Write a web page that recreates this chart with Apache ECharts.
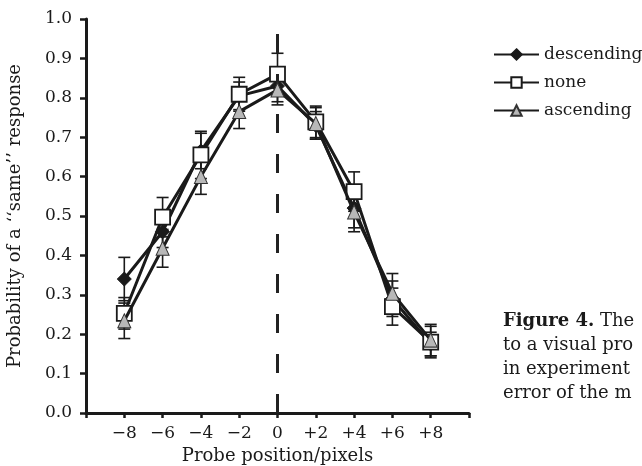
<!DOCTYPE html>
<html>
<head>
<meta charset="utf-8">
<script src="https://cdn.jsdelivr.net/npm/echarts@6/dist/echarts.min.js"></script>
<style>
  html, body { margin: 0; padding: 0; background: #fff; }
  #chart { width: 642px; height: 466px; }
</style>
</head>
<body>
<div id="chart"></div>
<script>
// probe positions (pixels)
const positions = [-8, -6, -4, -2, 0, 2, 4, 6, 8];

// probability of a "same" response
const descending = [0.34, 0.46, 0.665, 0.805, 0.83, 0.73, 0.52, 0.29, 0.175];
const none = [0.253, 0.497, 0.655, 0.809, 0.86, 0.739, 0.562, 0.27, 0.18];
const ascending = [0.234, 0.418, 0.60, 0.765, 0.82, 0.735, 0.51, 0.304, 0.185];

// standard errors
const descendingErr = [0.055, 0.04, 0.045, 0.035, 0.04, 0.035, 0.05, 0.045, 0.03];
const noneErr = [0.04, 0.05, 0.06, 0.043, 0.053, 0.04, 0.05, 0.047, 0.04];
const ascendingErr = [0.045, 0.048, 0.045, 0.043, 0.038, 0.04, 0.05, 0.05, 0.04];

const yTicks = [0, 0.1, 0.2, 0.3, 0.4, 0.5, 0.6, 0.7, 0.8, 0.9, 1.0];

const FONT = 'DejaVu Serif';
const INK = '#1a1a1a';

function pairs(values) {
  return positions.map((x, i) => [x, values[i]]);
}

function bars(values, errs) {
  return positions.map((x, i) => [x, values[i] - errs[i], values[i] + errs[i]]);
}

function renderErrorBar(params, api) {
  const x = api.value(0);
  const top = api.coord([x, api.value(2)]);
  const bot = api.coord([x, api.value(1)]);
  const hw = 6;
  const style = { stroke: INK, lineWidth: 1.6 };
  return {
    type: 'group',
    children: [
      { type: 'line', shape: { x1: top[0], y1: top[1], x2: bot[0], y2: bot[1] }, style },
      { type: 'line', shape: { x1: top[0] - hw, y1: top[1], x2: top[0] + hw, y2: top[1] }, style },
      { type: 'line', shape: { x1: bot[0] - hw, y1: bot[1], x2: bot[0] + hw, y2: bot[1] }, style }
    ]
  };
}

function errorSeries(name, values, errs) {
  return {
    name: name + ' error',
    type: 'custom',
    renderItem: renderErrorBar,
    encode: { x: 0, y: [1, 2] },
    data: bars(values, errs),
    z: 1,
    silent: true
  };
}

function xLabel(v) {
  if (v === -10 || v === 10) return '';
  if (v > 0) return '+' + v;
  if (v < 0) return '\u2212' + (-v);
  return '0';
}

const chart = echarts.init(document.getElementById('chart'), null, { renderer: 'canvas' });

chart.setOption({
  backgroundColor: '#fff',
  animation: false,
  textStyle: { fontFamily: FONT, color: INK },
  grid: { left: 86, right: 173, top: 19, bottom: 53, containLabel: false, outerBoundsMode: 'none' },
  xAxis: {
    type: 'value',
    min: -10,
    max: 10,
    interval: 2,
    name: 'Probe position/pixels',
    nameLocation: 'middle',
    nameGap: 31,
    nameTextStyle: { fontFamily: FONT, fontSize: 18, color: INK },
    axisLine: { onZero: false, lineStyle: { color: INK, width: 3 } },
    axisTick: { length: 5, lineStyle: { color: INK, width: 2.5 } },
    axisLabel: { formatter: xLabel, fontFamily: FONT, fontSize: 17, color: INK, margin: 12 },
    splitLine: { show: false }
  },
  yAxis: {
    type: 'value',
    min: 0,
    max: 1,
    interval: 0.1,
    name: 'Probability of a \u2018\u2018same\u2019\u2019 response',
    nameLocation: 'middle',
    nameGap: 62,
    nameTextStyle: { fontFamily: FONT, fontSize: 18, color: INK },
    axisLine: { show: true, onZero: false, lineStyle: { color: INK, width: 3 } },
    axisTick: { show: true, length: 6, lineStyle: { color: INK, width: 2.5 } },
    axisLabel: {
      formatter: (v) => yTicks.includes(Math.round(v * 10) / 10) ? v.toFixed(1) : '',
      fontFamily: FONT, fontSize: 17, color: INK, margin: 14
    },
    splitLine: { show: false }
  },
  legend: {
    data: ['descending', 'none', 'ascending'],
    orient: 'vertical',
    left: 488,
    top: 41,
    itemWidth: 45,
    itemHeight: 13,
    itemGap: 11,
    textStyle: { fontFamily: FONT, fontSize: 17, color: INK },
    selectedMode: false
  },
  graphic: [
    {
      type: 'text',
      left: 503,
      top: 309,
      style: {
        text: '{b|Figure 4.} The\nto a visual pro\nin experiment\nerror of the m',
        fontFamily: FONT,
        fontSize: 18,
        lineHeight: 24,
        fill: INK,
        rich: { b: { fontFamily: FONT, fontSize: 18, fontWeight: 'bold', lineHeight: 24, fill: INK } }
      }
    }
  ],
  series: [
    errorSeries('descending', descending, descendingErr),
    errorSeries('none', none, noneErr),
    errorSeries('ascending', ascending, ascendingErr),
    {
      name: 'descending',
      type: 'line',
      data: pairs(descending),
      symbol: 'diamond',
      symbolSize: 14,
      lineStyle: { color: INK, width: 3 },
      itemStyle: { color: INK, borderColor: INK, borderWidth: 1 },
      z: 3,
      markLine: {
        silent: true,
        symbol: 'none',
        label: { show: false },
        lineStyle: { type: [19, 21], color: '#222', width: 3 },
        data: [{ xAxis: 0 }]
      }
    },
    {
      name: 'none',
      type: 'line',
      data: pairs(none),
      symbol: 'rect',
      symbolSize: 15,
      lineStyle: { color: INK, width: 3 },
      itemStyle: { color: '#fff', borderColor: INK, borderWidth: 1.8 },
      z: 4
    },
    {
      name: 'ascending',
      type: 'line',
      data: pairs(ascending),
      symbol: 'triangle',
      symbolSize: [13, 14],
      lineStyle: { color: INK, width: 3 },
      itemStyle: { color: '#b8b8b8', borderColor: '#333', borderWidth: 1 },
      z: 5
    }
  ]
});
</script>
</body>
</html>
